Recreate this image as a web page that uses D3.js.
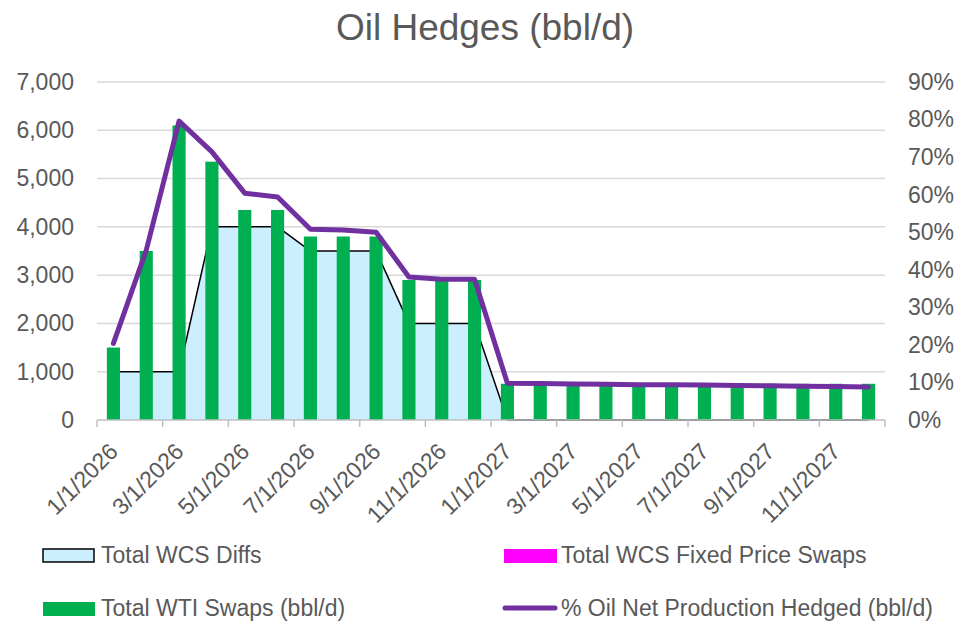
<!DOCTYPE html>
<html><head><meta charset="utf-8">
<script src="https://cdn.jsdelivr.net/npm/d3@7"></script>
<style>
body{margin:0;background:#fff;}
svg text{font-family:"Liberation Sans",Arial,sans-serif;fill:#595959;}
</style></head>
<body><svg id="c" width="959" height="622"></svg>
<script>
const months = ["1/1/2026","2/1/2026","3/1/2026","4/1/2026","5/1/2026","6/1/2026","7/1/2026","8/1/2026","9/1/2026","10/1/2026","11/1/2026","12/1/2026",
"1/1/2027","2/1/2027","3/1/2027","4/1/2027","5/1/2027","6/1/2027","7/1/2027","8/1/2027","9/1/2027","10/1/2027","11/1/2027","12/1/2027"];
const wcsDiffs = [1000,1000,1000,4000,4000,4000,3500,3500,3500,2000,2000,2000,0,0,0,0,0,0,0,0,0,0,0,0];
const wcsFixed = [0,0,0,0,0,0,0,0,0,0,0,0,0,0,0,0,0,0,0,0,0,0,0,0];
const wtiSwaps = [1500,3500,6100,5350,4350,4350,3800,3800,3800,2900,2900,2900,750,750,750,750,750,750,750,750,750,750,750,750];
const pctHedged = [20.4,45.2,79.6,71.4,60.4,59.4,50.8,50.6,50.0,38.1,37.5,37.5,9.8,9.7,9.6,9.5,9.4,9.4,9.3,9.2,9.1,9.0,8.9,8.8];
const leftTicks = [0,1000,2000,3000,4000,5000,6000,7000];
const rightTicks = [0,10,20,30,40,50,60,70,80,90];
const xLabels = months.filter((d,i)=>i%2===0);

const svg = d3.select("#c");
const L=97, R=885, T=82, B=420;
const x = d3.scaleBand().domain(months).range([L,R]).padding(0);
const y = d3.scaleLinear().domain([0,7000]).range([B,T]);
const y2 = d3.scaleLinear().domain([0,90]).range([B,T]);
const cx = d => x(d)+x.bandwidth()/2;

// title
svg.append("text").attr("x",485).attr("y",40).attr("text-anchor","middle").style("font-size","37px").text("Oil Hedges (bbl/d)");

// gridlines
svg.append("g").selectAll("line").data(leftTicks.filter(d=>d>0)).join("line")
  .attr("x1",L).attr("x2",R).attr("y1",d=>y(d)).attr("y2",d=>y(d))
  .attr("stroke","#D9D9D9").attr("stroke-width",1.5);

// left axis
const ga = svg.append("g").attr("transform",`translate(${L},0)`)
  .call(d3.axisLeft(y).tickValues(leftTicks).tickFormat(d3.format(",")).tickSize(0).tickPadding(23));
ga.select(".domain").remove();
ga.selectAll("text").style("font-size","23px").attr("fill","#595959");

// right axis
const gr = svg.append("g").attr("transform",`translate(${R},0)`)
  .call(d3.axisRight(y2).tickValues(rightTicks).tickFormat(d=>d+"%").tickSize(0).tickPadding(23));
gr.select(".domain").remove();
gr.selectAll("text").style("font-size","23px").attr("fill","#595959");

// area
const area = d3.area().x((d,i)=>cx(months[i])).y0(B).y1(d=>y(d));
svg.append("path").datum(wcsDiffs).attr("d",area).attr("fill","#CCEFFF");
const topLine = d3.line().x((d,i)=>cx(months[i])).y(d=>y(d));
svg.append("path").datum(wcsDiffs).attr("d",topLine).attr("fill","none").attr("stroke","#000").attr("stroke-width",1.5);

// bars
const bw = x.bandwidth()*0.4;
svg.append("g").selectAll("rect").data(wtiSwaps).join("rect")
  .attr("x",(d,i)=>cx(months[i])-bw/2).attr("width",bw)
  .attr("y",d=>y(d)).attr("height",d=>B-y(d)).attr("fill","#00B050");

// x axis
svg.append("line").attr("x1",L).attr("x2",R).attr("y1",B).attr("y2",B).attr("stroke","#BFBFBF").attr("stroke-width",1.5);
const tickBounds = months.filter((d,i)=>i%2===0).map(d=>x(d)).concat([R]);
svg.append("g").selectAll("line").data(tickBounds).join("line")
  .attr("x1",d=>d).attr("x2",d=>d).attr("y1",B).attr("y2",B+7).attr("stroke","#BFBFBF").attr("stroke-width",1.5);
svg.append("g").selectAll("text").data(xLabels).join("text")
  .attr("transform",d=>`translate(${cx(d)+6},${B+33}) rotate(-45)`)
  .attr("text-anchor","end").style("font-size","23px").text(d=>d);

// line
const pl = d3.line().x((d,i)=>cx(months[i])).y(d=>y2(d));
svg.append("path").datum(pctHedged).attr("d",pl).attr("fill","none").attr("stroke","#7030A0")
  .attr("stroke-width",5).attr("stroke-linejoin","round").attr("stroke-linecap","round");

// legend
const lg = svg.append("g").style("font-size","23px");
lg.append("rect").attr("x",43).attr("y",549).attr("width",51).attr("height",13).attr("fill","#CCEFFF").attr("stroke","#000").attr("stroke-width",1.5);
lg.append("text").attr("x",101).attr("y",563).text("Total WCS Diffs");
lg.append("rect").attr("x",504).attr("y",549).attr("width",53).attr("height",14).attr("fill","#FF00FF");
lg.append("text").attr("x",561).attr("y",563).text("Total WCS Fixed Price Swaps");
lg.append("rect").attr("x",43).attr("y",602).attr("width",52).attr("height",14).attr("fill","#00B050");
lg.append("text").attr("x",101).attr("y",616).text("Total WTI Swaps (bbl/d)");
lg.append("line").attr("x1",505).attr("x2",555).attr("y1",608).attr("y2",608).attr("stroke","#7030A0").attr("stroke-width",5).attr("stroke-linecap","round");
lg.append("text").attr("x",561).attr("y",616).text("% Oil Net Production Hedged (bbl/d)");
</script></body></html>
